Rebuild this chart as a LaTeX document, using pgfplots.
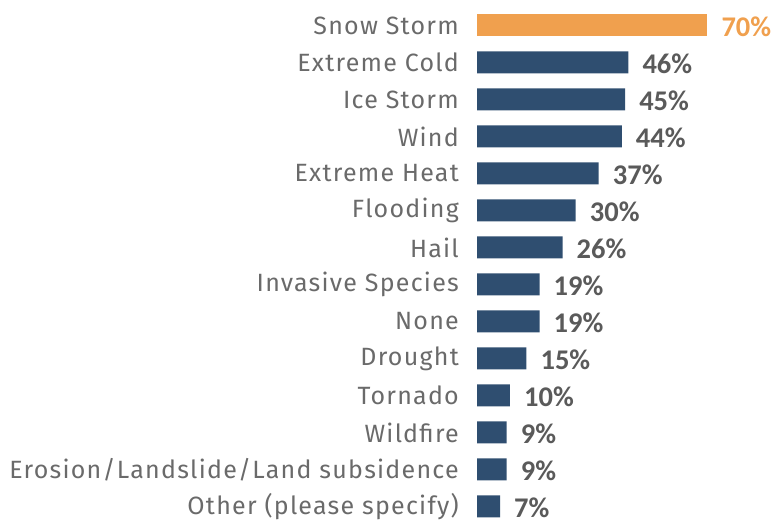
\documentclass[border=0pt]{standalone}
\usepackage{pgfplots}
\pgfplotsset{compat=1.18}
\usepackage{fontspec}
\setmainfont{Fira Sans}
\newfontfamily\labfont[LetterSpace=5]{Fira Sans}
\newfontfamily\valfont{Carlito}
\definecolor{barblue}{HTML}{2F4E70}
\definecolor{barorange}{HTML}{F0A04E}
\definecolor{labgray}{HTML}{6A6A6A}
\definecolor{valgray}{HTML}{5A5A5A}
\begin{document}
\begin{tikzpicture}[x=1bp,y=1bp]
\useasboundingbox (0,0) rectangle (776,522);
\begin{axis}[
  at={(477bp,-3.0bp)}, anchor=south west,
  scale only axis, width=296.1bp, height=518bp,
  xmin=0, xmax=90, ymin=-0.5, ymax=13.5,
  xbar, bar width=22bp, bar shift=0pt,
  axis line style={draw=none},
  major tick length=0pt,
  xtick=\empty,
  ytick={0,...,13},
  yticklabels={Other (please specify),Erosion/Landslide/Land subsidence,Wildfire,Tornado,Drought,None,Invasive Species,Hail,Flooding,Extreme Heat,Wind,Ice Storm,Extreme Cold,Snow Storm},
  yticklabel style={font=\labfont\fontsize{25bp}{25bp}\selectfont, text=labgray, anchor=east, inner sep=0pt, xshift=-18bp},
  point meta=x,
  /pgf/number format/assume math mode=true,
  nodes near coords={\pgfmathprintnumber{\pgfplotspointmeta}\%},
  nodes near coords style={anchor=west, inner sep=0pt, xshift=14bp, yshift=-1bp, font=\valfont\bfseries\fontsize{28.5bp}{28.5bp}\selectfont},
  clip=false,
]
\addplot[fill=barblue, draw=none, nodes near coords style={text=valgray}] coordinates {
(7,0) (9,1) (9,2) (10,3) (15,4) (19,5) (19,6) (26,7) (30,8) (37,9) (44,10) (45,11) (46,12)};
\addplot[fill=barorange, draw=none, nodes near coords style={text=barorange}] coordinates {(70,13)};
\end{axis}
\end{tikzpicture}
\end{document}
